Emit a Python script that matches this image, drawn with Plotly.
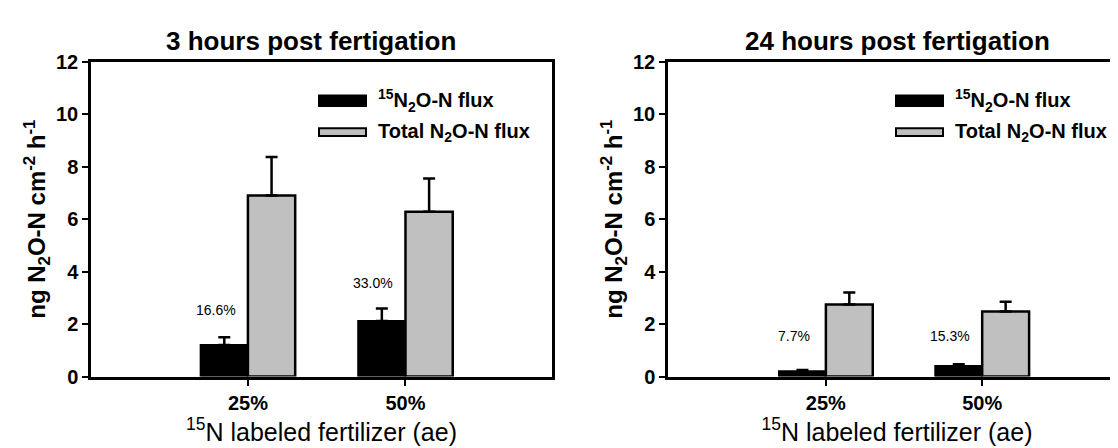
import plotly.graph_objects as go

# ---- data ----
categories = ["25%", "50%"]
flux15_3h = [1.2, 2.12]
flux15_3h_err = [0.3, 0.47]
total_3h = [6.9, 6.28]
total_3h_err = [1.47, 1.27]
pct_3h = ["16.6%", "33.0%"]
pct_3h_y = [2.53, 3.56]

flux15_24h = [0.2, 0.4]
flux15_24h_err = [0.05, 0.07]
total_24h = [2.75, 2.48]
total_24h_err = [0.45, 0.37]
pct_24h = ["7.7%", "15.3%"]
pct_24h_y = [1.55, 1.55]

titles = ["3 hours post fertigation", "24 hours post fertigation"]
legend_names = ["<sup>15</sup>N<sub>2</sub>O-N flux", "Total N<sub>2</sub>O-N flux"]
y_title = "ng N<sub>2</sub>O-N cm<sup>-2</sup> h<sup>-1</sup>"
x_title = "<sup>15</sup>N labeled fertilizer (ae)"
y_ticks = [0, 2, 4, 6, 8, 10, 12]

FONT = "Liberation Sans, Arial, sans-serif"
W, H = 1118, 448

fig = go.Figure()

def px_x(p):
    return p / W

def px_y(p):
    return (H - p) / H

panels = [
    dict(xa="x", ya="y", f15=flux15_3h, e15=flux15_3h_err, tot=total_3h, etot=total_3h_err,
         pct=pct_3h, pcty=pct_3h_y),
    dict(xa="x2", ya="y2", f15=flux15_24h, e15=flux15_24h_err, tot=total_24h, etot=total_24h_err,
         pct=pct_24h, pcty=pct_24h_y),
]

for p in panels:
    fig.add_trace(go.Bar(
        x=categories, y=p["f15"], xaxis=p["xa"], yaxis=p["ya"],
        marker=dict(color="black", line=dict(color="black", width=2)),
        error_y=dict(type="data", symmetric=False, array=p["e15"], arrayminus=[0, 0],
                     color="black", thickness=2.5, width=6),
        showlegend=False, offsetgroup="a",
    ))
    fig.add_trace(go.Bar(
        x=categories, y=p["tot"], xaxis=p["xa"], yaxis=p["ya"],
        marker=dict(color="#c0c0c0", line=dict(color="black", width=2.5)),
        error_y=dict(type="data", symmetric=False, array=p["etot"], arrayminus=[0, 0],
                     color="black", thickness=2.5, width=6),
        showlegend=False, offsetgroup="b",
    ))
    for c, t, yy in zip(categories, p["pct"], p["pcty"]):
        fig.add_annotation(x=c, y=yy, xref=p["xa"], yref=p["ya"], text=t, showarrow=False,
                           xshift=-32, font=dict(family=FONT, size=14, color="black"))

bar_axis = dict(showline=True, linecolor="black", linewidth=2.5, ticks="outside", ticklen=7,
                tickwidth=2, tickcolor="black", showgrid=False, zeroline=False,
                tickfont=dict(family=FONT, size=20, color="black", weight="bold"),
                type="category")
yax = dict(showline=True, linecolor="black", linewidth=2.5, ticks="outside", ticklen=6,
           tickwidth=2, tickcolor="black", showgrid=False, zeroline=False, range=[0, 12],
           tickvals=y_ticks, tickfont=dict(family=FONT, size=20, color="black", weight="bold"),
           title=dict(text=y_title, font=dict(family=FONT, size=24, color="black", weight="bold"),
                      standoff=4))
xtitle = dict(text=x_title, font=dict(family=FONT, size=25, color="black"), standoff=4)

ydom = [px_y(376), px_y(45)]
fig.update_layout(
    width=W, height=H, margin=dict(l=0, r=0, t=0, b=0),
    plot_bgcolor="white", paper_bgcolor="white",
    barmode="group", bargap=0.4, bargroupgap=0,
    xaxis=dict(bar_axis, domain=[px_x(83), px_x(544)], range=[-0.996, 1.93], mirror=True,
               anchor="y", title=xtitle),
    yaxis=dict(yax, domain=ydom, mirror=True, anchor="x"),
    xaxis2=dict(bar_axis, domain=[px_x(660), 1.0], range=[-1.01, 1.92], mirror=True,
                anchor="y2", title=xtitle),
    yaxis2=dict(yax, domain=ydom, mirror=False, anchor="x2"),
)

# subplot titles
for t, cx in zip(titles, [303, 889]):
    fig.add_annotation(x=px_x(cx), y=px_y(23), xref="paper", yref="paper", text=t,
                       showarrow=False, xanchor="center", yanchor="middle",
                       font=dict(family=FONT, size=26, color="black", weight="bold"))

# legends (swatches + labels)
for lx in [311, 888]:
    rows = [(86, "black", 11), (119, "#c0c0c0", 8)]
    for (cy, col, h), name in zip(rows, legend_names):
        fig.add_shape(type="rect", xref="paper", yref="paper",
                      x0=px_x(lx), x1=px_x(lx + 47), y0=px_y(cy + h / 2), y1=px_y(cy - h / 2),
                      fillcolor=col, line=dict(color="black", width=2))
        fig.add_annotation(x=px_x(lx + 57), y=px_y(cy), xref="paper", yref="paper", text=name,
                           showarrow=False, xanchor="left", yanchor="middle",
                           font=dict(family=FONT, size=20, color="black", weight="bold"))

fig.write_html("out.html")
